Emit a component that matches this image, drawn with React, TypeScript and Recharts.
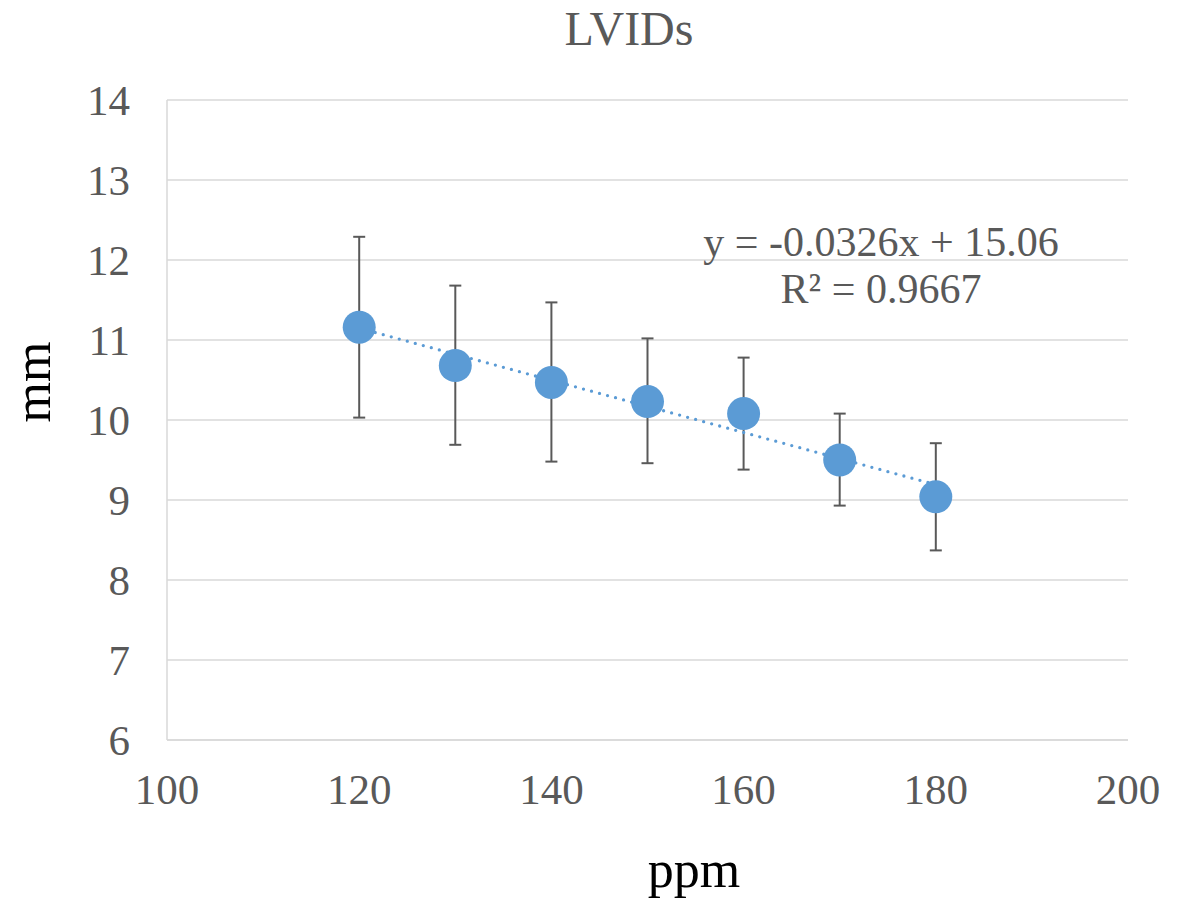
import React from 'react';
import { ScatterChart, Scatter, XAxis, YAxis, CartesianGrid, ErrorBar } from 'recharts';

const ppm = [120, 130, 140, 150, 160, 170, 180];
const lvids = [11.16, 10.68, 10.47, 10.23, 10.08, 9.5, 9.04];
const errLow = [1.13, 0.99, 0.99, 0.77, 0.7, 0.57, 0.67];
const errHigh = [1.13, 1.0, 1.0, 0.79, 0.7, 0.58, 0.67];
const xTicks = [100, 120, 140, 160, 180, 200];
const yTicks = [6, 7, 8, 9, 10, 11, 12, 13, 14];
const trendSlope = -0.0326;
const trendIntercept = 15.06;
const trendX = [120, 180];

const data = ppm.map((x, i) => ({ x, y: lvids[i], err: [errLow[i], errHigh[i]] }));
const trendData = trendX.map((x) => ({ x, y: trendSlope * x + trendIntercept }));

const FONT = '"Liberation Serif", "Times New Roman", serif';
const GRAY = '#595959';
const BLUE = '#5B9BD5';

export default function App() {
  return (
    <div style={{ position: 'absolute', left: 0, top: 0, width: 1188, height: 906, background: '#fff', fontFamily: FONT }}>
      <ScatterChart width={1188} height={906} margin={{ top: 100, right: 60, left: 0, bottom: 0 }}>
        <CartesianGrid vertical={false} stroke="#d9d9d9" strokeWidth={1.5} />
        <XAxis
          type="number"
          dataKey="x"
          domain={[100, 200]}
          ticks={xTicks}
          height={166}
          tickSize={0}
          tickMargin={33}
          axisLine={{ stroke: '#d9d9d9', strokeWidth: 1.5 }}
          tickLine={false}
          tick={{ fill: GRAY, fontSize: 43, fontFamily: FONT }}
          interval={0}
        />
        <YAxis
          type="number"
          dataKey="y"
          domain={[6, 14]}
          ticks={yTicks}
          width={167}
          tickSize={0}
          tickMargin={37}
          axisLine={{ stroke: '#d9d9d9', strokeWidth: 1.5 }}
          tickLine={false}
          tick={{ fill: GRAY, fontSize: 43, fontFamily: FONT }}
          interval={0}
        />
        <Scatter
          data={trendData}
          isAnimationActive={false}
          line={{ stroke: BLUE, strokeWidth: 3.3, strokeDasharray: '0 8.3', strokeLinecap: 'round' }}
          shape={() => <g />}
        />
        <Scatter
          data={data}
          isAnimationActive={false}
          fill={BLUE}
          shape={(props: any) => <circle cx={props.cx} cy={props.cy} r={16.5} fill={BLUE} />}
        >
          <ErrorBar dataKey="err" direction="y" width={6} stroke={GRAY} strokeWidth={2} />
        </Scatter>
      </ScatterChart>
      <div style={{ position: 'absolute', left: 0, width: 1258, top: 3, textAlign: 'center', fontSize: 48, color: GRAY, lineHeight: '52px' }}>
        LVIDs
      </div>
      <div style={{ position: 'absolute', left: 700, width: 362, top: 219, textAlign: 'center', fontSize: 42, color: GRAY, lineHeight: '46.7px', whiteSpace: 'nowrap' }}>
        <div>y = -0.0326x + 15.06</div>
        <div>R² = 0.9667</div>
      </div>
      <div style={{ position: 'absolute', left: 594, width: 200, top: 842, textAlign: 'center', fontSize: 52, color: '#000', lineHeight: '56px' }}>
        ppm
      </div>
      <div
        style={{
          position: 'absolute',
          left: -67,
          top: 354,
          width: 200,
          textAlign: 'center',
          fontSize: 52,
          color: '#000',
          lineHeight: '56px',
          transform: 'rotate(-90deg)',
        }}
      >
        mm
      </div>
    </div>
  );
}
